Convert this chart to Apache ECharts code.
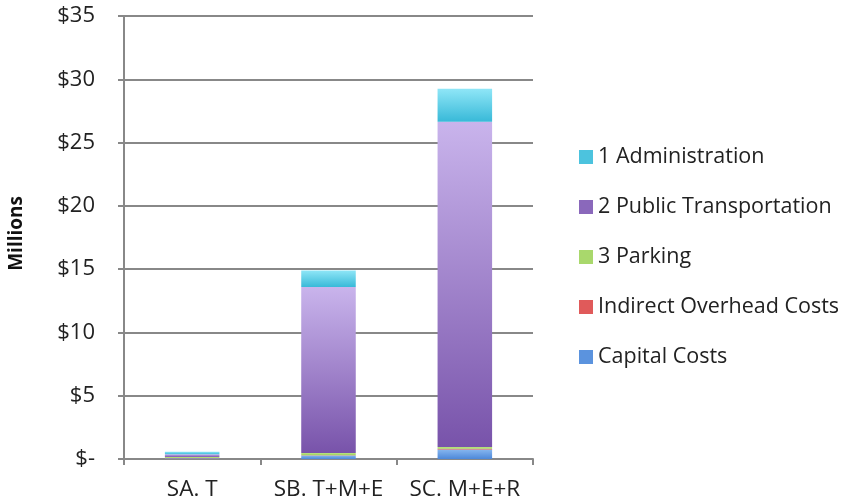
<!DOCTYPE html>
<html>
<head>
<meta charset="utf-8">
<script src="https://cdn.jsdelivr.net/npm/echarts@6/dist/echarts.min.js"></script>
<style>
  html, body { margin: 0; padding: 0; background: #fff; }
  #chart { width: 842px; height: 504px; }
</style>
</head>
<body>
<div id="chart"></div>
<script>
// Scenario categories
const categories = ['SA. T', 'SB. T+M+E', 'SC. M+E+R'];

// Annual costs per scenario, in millions of dollars
const capitalCosts = [0.05, 0.28, 0.75];
const indirectOverhead = [0.02, 0.02, 0.05];
const parking = [0.08, 0.18, 0.15];
const publicTransportation = [0.22, 13.1, 25.7];
const administration = [0.2, 1.32, 2.6];

// Value axis ticks
const yTicks = [0, 5, 10, 15, 20, 25, 30, 35];

const FONT = '"Open Sans"';

function vgrad(top, bottom) {
  return new echarts.graphic.LinearGradient(0, 0, 0, 1, [
    { offset: 0, color: top },
    { offset: 1, color: bottom }
  ]);
}

const seriesDefs = [
  { name: 'Capital Costs', data: capitalCosts, color: vgrad('#86b6ef', '#4d88d9'), legend: '#5b93de' },
  { name: 'Indirect Overhead Costs', data: indirectOverhead, color: vgrad('#ef6f6f', '#d84848'), legend: '#e05a5a' },
  { name: '3 Parking', data: parking, color: vgrad('#bfe486', '#9ccf5a'), legend: '#a9d86c' },
  { name: '2 Public Transportation', data: publicTransportation, color: vgrad('#c9b4ec', '#7853aa'), legend: '#8a68bb' },
  { name: '1 Administration', data: administration, color: vgrad('#8fe6f7', '#38b9d8'), legend: '#4cc3de' }
];

const chart = echarts.init(document.getElementById('chart'), null, { renderer: 'canvas' });

chart.setOption({
  animation: false,
  backgroundColor: '#ffffff',
  grid: { left: 124, right: 309, top: 16, bottom: 45, containLabel: false },
  legend: {
    orient: 'vertical',
    left: 579,
    top: 146,
    padding: 0,
    icon: 'rect',
    itemWidth: 14,
    itemHeight: 14,
    itemGap: 28,
    data: seriesDefs.slice().reverse().map(s => ({
      name: s.name,
      itemStyle: { color: s.legend }
    })),
    textStyle: { fontFamily: FONT, fontSize: 21.5, lineHeight: 21, color: '#222' }
  },
  graphic: [{
    type: 'text',
    left: 7,
    top: 196,
    rotation: Math.PI / 2,
    style: {
      text: 'Millions',
      fontFamily: 'Open Sans',
      fontSize: 19,
      fontWeight: 'bold',
      fill: '#111'
    }
  }],
  xAxis: {
    type: 'category',
    data: categories,
    axisLine: { show: true, lineStyle: { color: '#888', width: 2 } },
    axisTick: { show: true, length: 6, lineStyle: { color: '#888', width: 2 } },
    axisLabel: {
      interval: 0,
      hideOverlap: false,
      fontFamily: FONT,
      fontSize: 22.5,
      color: '#222',
      margin: 19
    }
  },
  yAxis: {
    type: 'value',
    min: yTicks[0],
    max: yTicks[yTicks.length - 1],
    interval: yTicks[1] - yTicks[0],
    axisLine: { show: true, lineStyle: { color: '#888', width: 2 } },
    axisTick: { show: true, length: 6, lineStyle: { color: '#888', width: 2 } },
    splitLine: { show: true, lineStyle: { color: '#888', width: 2 } },
    axisLabel: {
      fontFamily: FONT,
      fontSize: 22,
      color: '#222',
      margin: 29,
      formatter: v => (v === 0 ? '$-' : '$' + v)
    }
  },
  series: seriesDefs.map(s => ({
    name: s.name,
    type: 'bar',
    stack: 'cost',
    barCategoryGap: '60%',
    data: s.data,
    itemStyle: { color: s.color },
    emphasis: { disabled: true }
  }))
});
</script>
</body>
</html>
